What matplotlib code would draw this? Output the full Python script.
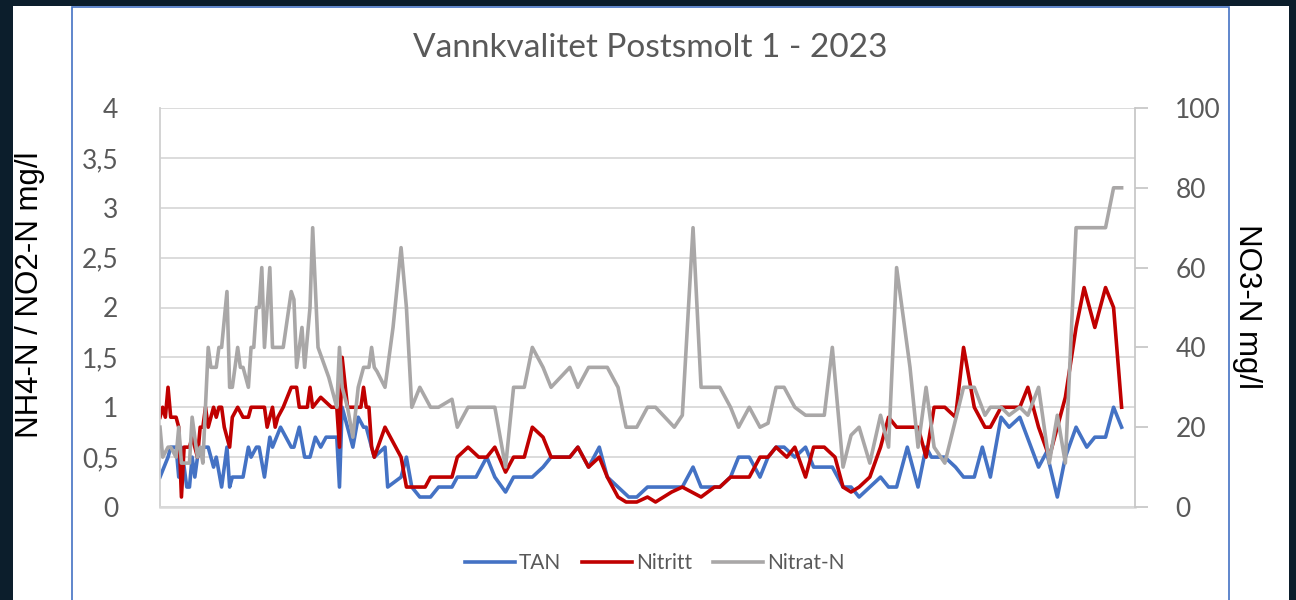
import matplotlib
matplotlib.use('Agg')
import matplotlib.pyplot as plt
from matplotlib.patches import Rectangle
from matplotlib.lines import Line2D
import numpy as np

# day of year for each sample, and values
tan_day = [0, 3, 4, 6, 7, 8, 10, 11, 12, 13, 14, 16, 18, 20, 21, 23, 25, 26, 27, 31,
           33, 34, 36, 37, 39, 41, 42, 45, 47, 49, 50, 52, 54, 56, 58, 60, 62, 66, 67, 68,
           70, 72, 74, 76, 77, 79, 80, 84, 85, 90, 92, 94, 97, 101, 104, 109, 111, 118, 122, 125,
           129, 132, 139, 143, 146, 153, 156, 160, 164, 167, 171, 175, 178, 182, 195, 199, 202, 209, 213, 216,
           220, 224, 227, 230, 233, 237, 241, 244, 251, 255, 258, 261, 265, 269, 272, 275, 279, 283, 286, 288,
           293, 297, 300, 304, 307, 310, 314, 317, 321, 328, 331, 335, 338, 342, 346, 349, 353, 356, 359]
tan = [0.3, 0.5, 0.6, 0.6, 0.3, 0.6, 0.2, 0.2, 0.5, 0.3, 0.5, 0.6, 0.6, 0.4, 0.5, 0.2, 0.6, 0.2, 0.3, 0.3,
       0.6, 0.5, 0.6, 0.6, 0.3, 0.7, 0.6, 0.8, 0.7, 0.6, 0.6, 0.8, 0.5, 0.5, 0.7, 0.6, 0.7, 0.7, 0.2, 1.0,
       0.8, 0.6, 0.9, 0.8, 0.8, 0.6, 0.5, 0.6, 0.2, 0.3, 0.5, 0.2, 0.1, 0.1, 0.2, 0.2, 0.3, 0.3, 0.5, 0.3,
       0.15, 0.3, 0.3, 0.4, 0.5, 0.5, 0.6, 0.4, 0.6, 0.3, 0.2, 0.1, 0.1, 0.2, 0.2, 0.4, 0.2, 0.2, 0.3, 0.5,
       0.5, 0.3, 0.5, 0.6, 0.6, 0.5, 0.6, 0.4, 0.4, 0.2, 0.2, 0.1, 0.2, 0.3, 0.2, 0.2, 0.6, 0.2, 0.6, 0.5,
       0.5, 0.4, 0.3, 0.3, 0.6, 0.3, 0.9, 0.8, 0.9, 0.4, 0.55, 0.1, 0.5, 0.8, 0.6, 0.7, 0.7, 1.0, 0.8]

nitritt_day = [0, 1, 2, 3, 4, 6, 7, 8, 9, 11, 12, 14, 15, 16, 17, 18, 20, 21, 22, 23,
               24, 26, 27, 29, 31, 33, 34, 39, 40, 42, 43, 44, 46, 49, 51, 52, 55, 56, 57, 60,
               62, 64, 66, 67, 68, 70, 73, 75, 76, 77, 78, 79, 80, 84, 86, 90, 92, 99, 101, 109,
               111, 115, 119, 122, 125, 129, 132, 136, 139, 143, 146, 153, 156, 160, 164, 167, 171, 174, 178, 182,
               185, 191, 195, 202, 207, 209, 213, 220, 224, 227, 230, 234, 237, 241, 244, 248, 252, 255, 258, 261,
               265, 269, 272, 275, 283, 286, 289, 293, 297, 300, 304, 308, 310, 314, 321, 324, 328, 332, 335, 338,
               342, 345, 349, 353, 356, 359]
nitritt = [0.9, 1.0, 0.9, 1.2, 0.9, 0.9, 0.8, 0.1, 0.6, 0.6, 0.7, 0.5, 0.8, 0.8, 1.0, 0.8, 1.0, 0.9, 1.0, 1.0,
           0.8, 0.6, 0.9, 1.0, 0.9, 0.9, 1.0, 1.0, 0.8, 1.0, 0.8, 0.9, 1.0, 1.2, 1.2, 1.0, 1.0, 1.2, 1.0, 1.1,
           1.05, 1.0, 1.0, 0.6, 1.5, 1.0, 1.0, 1.0, 1.2, 1.0, 1.0, 0.6, 0.5, 0.8, 0.7, 0.5, 0.2, 0.2, 0.3, 0.3,
           0.5, 0.6, 0.5, 0.5, 0.6, 0.35, 0.5, 0.5, 0.8, 0.7, 0.5, 0.5, 0.6, 0.4, 0.5, 0.3, 0.1, 0.05, 0.05, 0.1,
           0.05, 0.15, 0.2, 0.1, 0.2, 0.2, 0.3, 0.3, 0.5, 0.5, 0.6, 0.5, 0.6, 0.3, 0.6, 0.6, 0.5, 0.2, 0.15, 0.2,
           0.3, 0.6, 0.9, 0.8, 0.8, 0.5, 1.0, 1.0, 0.9, 1.6, 1.0, 0.8, 0.8, 1.0, 1.0, 1.2, 0.8, 0.5, 0.8, 1.1,
           1.8, 2.2, 1.8, 2.2, 2.0, 1.0]

nitrat_day = [0, 1, 3, 4, 6, 7, 8, 11, 12, 14, 15, 16, 18, 19, 21, 22, 23, 25, 26, 27,
              29, 30, 31, 33, 34, 35, 36, 37, 38, 39, 41, 42, 46, 49, 50, 51, 53, 54, 56, 57,
              59, 63, 66, 67, 68, 70, 72, 74, 76, 78, 79, 80, 81, 84, 87, 90, 92, 94, 97, 101,
              104, 109, 111, 115, 125, 129, 132, 136, 139, 143, 146, 153, 156, 160, 167, 171, 174, 178, 182, 185,
              192, 195, 199, 202, 209, 213, 216, 220, 224, 227, 230, 233, 237, 241, 248, 251, 255, 258, 261, 265,
              269, 272, 275, 280, 283, 286, 289, 293, 300, 304, 308, 310, 314, 317, 321, 324, 328, 332, 335, 338,
              342, 353, 356, 359]
nitrat = [20, 12.5, 15, 15, 12.5, 20, 11, 11, 22.5, 12.5, 15, 11, 40, 35, 35, 40, 40, 54, 30, 30,
          40, 35, 35, 30, 40, 40, 50, 50, 60, 40, 60, 40, 40, 54, 52, 35, 45, 35, 50, 70,
          40, 32.5, 25, 40, 30, 25, 17.5, 30, 35, 35, 40, 35, 34, 30, 45, 65, 50, 25, 30, 25,
          25, 27, 20, 25, 25, 10, 30, 30, 40, 35, 30, 35, 30, 35, 35, 30, 20, 20, 25, 25,
          20, 23, 70, 30, 30, 25, 20, 25, 20, 21, 30, 30, 25, 23, 23, 40, 10, 18, 20, 11,
          23, 15, 60, 35, 15, 30, 15, 11, 30, 30, 23, 25, 25, 23, 25, 23, 30, 11, 23, 11,
          70, 70, 80, 80]

left_ticks = [0, 0.5, 1, 1.5, 2, 2.5, 3, 3.5, 4]
right_ticks = [0, 20, 40, 60, 80, 100]

plt.rcParams['font.family'] = ['Lato', 'DejaVu Sans']

fig = plt.figure(figsize=(12.96, 6), dpi=100)
fig.patch.set_facecolor('#0c1e2c')
# white slide area and chart frame
fig.add_artist(Rectangle((13 / 1296, 0), 1276 / 1296, 594 / 600, transform=fig.transFigure,
                         facecolor='white', edgecolor='none', zorder=-10))
fig.add_artist(Rectangle((72 / 1296, -0.05), 1157 / 1296, 1.05 - 7 / 600, transform=fig.transFigure,
                         facecolor='none', edgecolor='#4472c4', lw=1.2, zorder=-5))

ax = fig.add_axes([160 / 1296, 1 - 507 / 600, 975 / 1296, 399 / 600])
ax.set_facecolor('none')
ax.plot(tan_day, tan, color='#4472c4', lw=2.6, solid_joinstyle='round')
ax.plot(nitritt_day, nitritt, color='#c00000', lw=2.6, solid_joinstyle='round')
ax.set_xlim(0, 364)
ax.set_ylim(0, 4)
ax.set_yticks(left_ticks)
ax.set_yticklabels([f'{v:g}'.replace('.', ',') for v in left_ticks])
ax.set_xticks([])
ax.grid(axis='y', color='#d9d9d9', lw=1.3)
ax.set_axisbelow(True)
ax.tick_params(axis='y', length=0, pad=30, labelsize=19, labelcolor='#595959')
for s in ['top', 'right']:
    ax.spines[s].set_visible(False)
ax.spines['left'].set_color('#d0d0d0')
ax.spines['left'].set_linewidth(1.3)
ax.spines['bottom'].set_color('#d9d9d9')
ax.spines['bottom'].set_linewidth(1.8)

ax2 = ax.twinx()
ax2.plot(nitrat_day, nitrat, color='#a9a7a7', lw=2.6, solid_joinstyle='round')
ax2.set_ylim(0, 100)
ax2.set_yticks(right_ticks)
ax2.tick_params(axis='y', length=9, width=1.3, color='#c8c8c8', pad=20, labelsize=19, labelcolor='#595959')
for s in ['top', 'left', 'bottom']:
    ax2.spines[s].set_visible(False)
ax2.spines['right'].set_color('#c8c8c8')
ax2.spines['right'].set_linewidth(1.3)

fig.text(650 / 1296, 1 - 48 / 600, 'Vannkvalitet Postsmolt 1 - 2023', ha='center', va='center',
         fontsize=24, color='#595959')
fig.text(30 / 1296, 1 - 295 / 600, 'NH4-N / NO2-N mg/l', rotation=90, ha='center', va='center',
         fontsize=22.5, color='black', family='Liberation Sans')
fig.text(1247 / 1296, 1 - 307 / 600, 'NO3-N mg/l', rotation=-90, ha='center', va='center',
         fontsize=22.5, color='black', family='Liberation Sans')

handles = [Line2D([], [], color='#4472c4', lw=2.6),
           Line2D([], [], color='#c00000', lw=2.6),
           Line2D([], [], color='#a9a7a7', lw=2.6)]
fig.legend(handles, ['TAN', 'Nitritt', 'Nitrat-N'], loc='center', bbox_to_anchor=(655 / 1296, 1 - 563 / 600),
           ncol=3, frameon=False, fontsize=15, labelcolor='#595959', handlelength=2.4,
           handletextpad=0.2, columnspacing=1.0)

fig.savefig('out.png', dpi=100, facecolor=fig.get_facecolor())
